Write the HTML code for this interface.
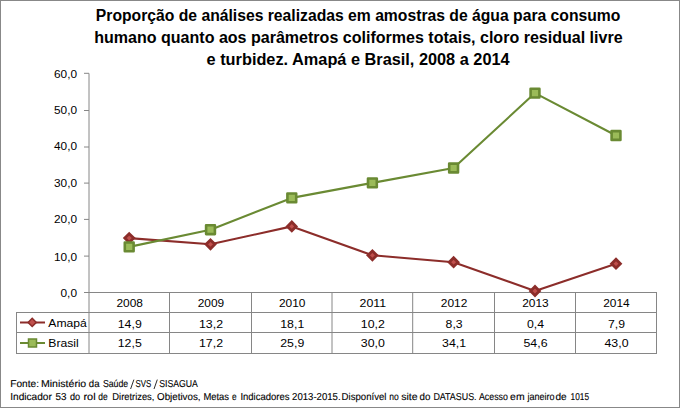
<!DOCTYPE html><html><head><meta charset="utf-8"><style>html,body{margin:0;padding:0;background:#fff;}svg{display:block;}text{font-family:"Liberation Sans",sans-serif;}</style></head><body>
<svg width="680" height="408" viewBox="0 0 680 408">
<rect x="0" y="0" width="680" height="408" fill="#fff"/>
<rect x="0.5" y="0.5" width="679" height="407" fill="none" stroke="#888888" stroke-width="1"/>
<text x="95.80" y="21" font-size="16" font-weight="bold" fill="#000" textLength="524.60" lengthAdjust="spacingAndGlyphs">Proporção de análises realizadas em amostras de água para consumo</text>
<text x="94.20" y="43" font-size="16" font-weight="bold" fill="#000" textLength="528.40" lengthAdjust="spacingAndGlyphs">humano quanto aos parâmetros coliformes totais, cloro residual livre</text>
<text x="206.60" y="65" font-size="16" font-weight="bold" fill="#000" textLength="303.00" lengthAdjust="spacingAndGlyphs">e turbidez. Amapá e Brasil, 2008 a 2014</text>
<g stroke="#868686" stroke-width="1" fill="none">
<line x1="89" y1="73.4" x2="89" y2="353"/>
<line x1="84" y1="292.5" x2="89" y2="292.5"/>
<line x1="84" y1="256.1" x2="89" y2="256.1"/>
<line x1="84" y1="219.4" x2="89" y2="219.4"/>
<line x1="84" y1="183.1" x2="89" y2="183.1"/>
<line x1="84" y1="147.0" x2="89" y2="147.0"/>
<line x1="84" y1="110.5" x2="89" y2="110.5"/>
<line x1="84" y1="73.3" x2="89" y2="73.3"/>
</g>
<g stroke="#868686" stroke-width="1" fill="none" shape-rendering="crispEdges">
<line x1="89" y1="292.5" x2="657" y2="292.5"/>
<line x1="16" y1="312.5" x2="657" y2="312.5"/>
<line x1="16" y1="332.5" x2="657" y2="332.5"/>
<line x1="16" y1="353.5" x2="657" y2="353.5"/>
<line x1="16.5" y1="312" x2="16.5" y2="354"/>
</g>
<g stroke="#868686" stroke-width="1" fill="none">
<line x1="169.5" y1="292" x2="169.5" y2="354"/>
<line x1="251.5" y1="292" x2="251.5" y2="354"/>
<line x1="332" y1="292" x2="332" y2="354"/>
<line x1="412.7" y1="292" x2="412.7" y2="354"/>
<line x1="494.5" y1="292" x2="494.5" y2="354"/>
<line x1="575.5" y1="292" x2="575.5" y2="354"/>
<line x1="656.5" y1="292" x2="656.5" y2="354"/>
</g>
<text x="60.50" y="297" font-size="11.5" fill="#000" textLength="16.5" lengthAdjust="spacingAndGlyphs">0,0</text>
<text x="54.00" y="261" font-size="11.5" fill="#000" textLength="23" lengthAdjust="spacingAndGlyphs">10,0</text>
<text x="54.00" y="223" font-size="11.5" fill="#000" textLength="23" lengthAdjust="spacingAndGlyphs">20,0</text>
<text x="54.00" y="187" font-size="11.5" fill="#000" textLength="23" lengthAdjust="spacingAndGlyphs">30,0</text>
<text x="54.00" y="150" font-size="11.5" fill="#000" textLength="23" lengthAdjust="spacingAndGlyphs">40,0</text>
<text x="54.00" y="114" font-size="11.5" fill="#000" textLength="23" lengthAdjust="spacingAndGlyphs">50,0</text>
<text x="54.00" y="78" font-size="11.5" fill="#000" textLength="23" lengthAdjust="spacingAndGlyphs">60,0</text>
<text x="116.50" y="307" font-size="11.5" fill="#000" textLength="26.5" lengthAdjust="spacingAndGlyphs">2008</text>
<text x="117.75" y="328" font-size="11.5" fill="#000" textLength="24" lengthAdjust="spacingAndGlyphs">14,9</text>
<text x="117.75" y="347" font-size="11.5" fill="#000" textLength="24" lengthAdjust="spacingAndGlyphs">12,5</text>
<text x="197.75" y="307" font-size="11.5" fill="#000" textLength="26.5" lengthAdjust="spacingAndGlyphs">2009</text>
<text x="199.00" y="328" font-size="11.5" fill="#000" textLength="24" lengthAdjust="spacingAndGlyphs">13,2</text>
<text x="199.00" y="347" font-size="11.5" fill="#000" textLength="24" lengthAdjust="spacingAndGlyphs">17,2</text>
<text x="279.00" y="307" font-size="11.5" fill="#000" textLength="26.5" lengthAdjust="spacingAndGlyphs">2010</text>
<text x="280.25" y="328" font-size="11.5" fill="#000" textLength="24" lengthAdjust="spacingAndGlyphs">18,1</text>
<text x="280.25" y="347" font-size="11.5" fill="#000" textLength="24" lengthAdjust="spacingAndGlyphs">25,9</text>
<text x="359.60" y="307" font-size="11.5" fill="#000" textLength="26.5" lengthAdjust="spacingAndGlyphs">2011</text>
<text x="360.85" y="328" font-size="11.5" fill="#000" textLength="24" lengthAdjust="spacingAndGlyphs">10,2</text>
<text x="360.85" y="347" font-size="11.5" fill="#000" textLength="24" lengthAdjust="spacingAndGlyphs">30,0</text>
<text x="440.85" y="307" font-size="11.5" fill="#000" textLength="26.5" lengthAdjust="spacingAndGlyphs">2012</text>
<text x="445.60" y="328" font-size="11.5" fill="#000" textLength="17" lengthAdjust="spacingAndGlyphs">8,3</text>
<text x="442.10" y="347" font-size="11.5" fill="#000" textLength="24" lengthAdjust="spacingAndGlyphs">34,1</text>
<text x="522.25" y="307" font-size="11.5" fill="#000" textLength="26.5" lengthAdjust="spacingAndGlyphs">2013</text>
<text x="527.00" y="328" font-size="11.5" fill="#000" textLength="17" lengthAdjust="spacingAndGlyphs">0,4</text>
<text x="523.50" y="347" font-size="11.5" fill="#000" textLength="24" lengthAdjust="spacingAndGlyphs">54,6</text>
<text x="603.25" y="307" font-size="11.5" fill="#000" textLength="26.5" lengthAdjust="spacingAndGlyphs">2014</text>
<text x="608.00" y="328" font-size="11.5" fill="#000" textLength="17" lengthAdjust="spacingAndGlyphs">7,9</text>
<text x="604.50" y="347" font-size="11.5" fill="#000" textLength="24" lengthAdjust="spacingAndGlyphs">43,0</text>
<line x1="20" y1="322.5" x2="45" y2="322.5" stroke="#8c2d2a" stroke-width="2"/>
<path d="M32.2 318.3 L36.3 322.4 L32.2 326.5 L28.1 322.4 Z" fill="#c0504d" stroke="#8c2d2a" stroke-width="1.5"/>
<text x="48.3" y="327" font-size="11.5" fill="#000" textLength="38.5" lengthAdjust="spacingAndGlyphs">Amapá</text>
<line x1="20" y1="343" x2="45" y2="343" stroke="#6a8a33" stroke-width="2"/>
<rect x="28.5" y="339" width="8" height="8" fill="#9bbb59" stroke="#6a8a33" stroke-width="1.5"/>
<text x="48.3" y="347.3" font-size="11.5" fill="#000" textLength="30.5" lengthAdjust="spacingAndGlyphs">Brasil</text>
<polyline points="129.2,238.1 210.5,244.3 291.8,226.4 372.4,255.3 453.6,262.2 535.0,291.0 616.0,263.7" fill="none" stroke="#8c2d2a" stroke-width="2.1" stroke-linejoin="round" stroke-linecap="round"/>
<path d="M129.2 233.7 L133.7 238.1 L129.2 242.5 L124.8 238.1 Z" fill="#c0504d" stroke="#8c2d2a" stroke-width="2.8"/>
<path d="M210.5 239.9 L214.9 244.3 L210.5 248.7 L206.1 244.3 Z" fill="#c0504d" stroke="#8c2d2a" stroke-width="2.8"/>
<path d="M291.8 222.0 L296.1 226.4 L291.8 230.8 L287.4 226.4 Z" fill="#c0504d" stroke="#8c2d2a" stroke-width="2.8"/>
<path d="M372.4 250.9 L376.8 255.3 L372.4 259.7 L368.0 255.3 Z" fill="#c0504d" stroke="#8c2d2a" stroke-width="2.8"/>
<path d="M453.6 257.8 L458.0 262.2 L453.6 266.6 L449.2 262.2 Z" fill="#c0504d" stroke="#8c2d2a" stroke-width="2.8"/>
<path d="M535.0 286.6 L539.4 291.0 L535.0 295.4 L530.6 291.0 Z" fill="#c0504d" stroke="#8c2d2a" stroke-width="2.8"/>
<path d="M616.0 259.3 L620.4 263.7 L616.0 268.1 L611.6 263.7 Z" fill="#c0504d" stroke="#8c2d2a" stroke-width="2.8"/>
<polyline points="129.2,246.9 210.5,229.7 291.8,197.9 372.4,182.9 453.6,168.0 535.0,93.1 616.0,135.5" fill="none" stroke="#6a8a33" stroke-width="2.1" stroke-linejoin="round" stroke-linecap="round"/>
<rect x="124.8" y="242.5" width="8.8" height="8.8" fill="#9bbb59" stroke="#6a8a33" stroke-width="2.6" stroke-linejoin="round"/>
<rect x="206.1" y="225.3" width="8.8" height="8.8" fill="#9bbb59" stroke="#6a8a33" stroke-width="2.6" stroke-linejoin="round"/>
<rect x="287.4" y="193.5" width="8.8" height="8.8" fill="#9bbb59" stroke="#6a8a33" stroke-width="2.6" stroke-linejoin="round"/>
<rect x="368.0" y="178.5" width="8.8" height="8.8" fill="#9bbb59" stroke="#6a8a33" stroke-width="2.6" stroke-linejoin="round"/>
<rect x="449.2" y="163.6" width="8.8" height="8.8" fill="#9bbb59" stroke="#6a8a33" stroke-width="2.6" stroke-linejoin="round"/>
<rect x="530.6" y="88.7" width="8.8" height="8.8" fill="#9bbb59" stroke="#6a8a33" stroke-width="2.6" stroke-linejoin="round"/>
<rect x="611.6" y="131.1" width="8.8" height="8.8" fill="#9bbb59" stroke="#6a8a33" stroke-width="2.6" stroke-linejoin="round"/>
<text x="10.20" y="387" font-size="10" text-rendering="geometricPrecision" fill="#000" stroke="#000" stroke-width="0.12" textLength="28.80" lengthAdjust="spacingAndGlyphs">Fonte:</text>
<text x="40.90" y="387" font-size="10" text-rendering="geometricPrecision" fill="#000" stroke="#000" stroke-width="0.12" textLength="45.30" lengthAdjust="spacingAndGlyphs">Ministério</text>
<text x="88.80" y="387" font-size="10" text-rendering="geometricPrecision" fill="#000" stroke="#000" stroke-width="0.12" textLength="10.70" lengthAdjust="spacingAndGlyphs">da</text>
<text x="102.90" y="387" font-size="10" text-rendering="geometricPrecision" fill="#000" stroke="#000" stroke-width="0.12" textLength="25.30" lengthAdjust="spacingAndGlyphs">Saúde</text>
<text x="135.50" y="387" font-size="10" text-rendering="geometricPrecision" fill="#000" stroke="#000" stroke-width="0.12" textLength="15.70" lengthAdjust="spacingAndGlyphs">SVS</text>
<text x="159.30" y="387" font-size="10" text-rendering="geometricPrecision" fill="#000" stroke="#000" stroke-width="0.12" textLength="38.60" lengthAdjust="spacingAndGlyphs">SISAGUA</text>
<text x="10.20" y="400" font-size="10" text-rendering="geometricPrecision" fill="#000" stroke="#000" stroke-width="0.12" textLength="41.70" lengthAdjust="spacingAndGlyphs">Indicador</text>
<text x="55.50" y="400" font-size="10" text-rendering="geometricPrecision" fill="#000" stroke="#000" stroke-width="0.12" textLength="11.00" lengthAdjust="spacingAndGlyphs">53</text>
<text x="70.00" y="400" font-size="10" text-rendering="geometricPrecision" fill="#000" stroke="#000" stroke-width="0.12" textLength="10.20" lengthAdjust="spacingAndGlyphs">do</text>
<text x="83.40" y="400" font-size="10" text-rendering="geometricPrecision" fill="#000" stroke="#000" stroke-width="0.12" textLength="12.20" lengthAdjust="spacingAndGlyphs">rol</text>
<text x="98.20" y="400" font-size="10" text-rendering="geometricPrecision" fill="#000" stroke="#000" stroke-width="0.12" textLength="9.40" lengthAdjust="spacingAndGlyphs">de</text>
<text x="112.30" y="400" font-size="10" text-rendering="geometricPrecision" fill="#000" stroke="#000" stroke-width="0.12" textLength="42.10" lengthAdjust="spacingAndGlyphs">Diretrizes,</text>
<text x="157.00" y="400" font-size="10" text-rendering="geometricPrecision" fill="#000" stroke="#000" stroke-width="0.12" textLength="43.60" lengthAdjust="spacingAndGlyphs">Objetivos,</text>
<text x="203.40" y="400" font-size="10" text-rendering="geometricPrecision" fill="#000" stroke="#000" stroke-width="0.12" textLength="25.70" lengthAdjust="spacingAndGlyphs">Metas</text>
<text x="231.90" y="400" font-size="10" text-rendering="geometricPrecision" fill="#000" stroke="#000" stroke-width="0.12" textLength="4.60" lengthAdjust="spacingAndGlyphs">e</text>
<text x="240.40" y="400" font-size="10" text-rendering="geometricPrecision" fill="#000" stroke="#000" stroke-width="0.12" textLength="49.10" lengthAdjust="spacingAndGlyphs">Indicadores</text>
<text x="292.10" y="400" font-size="10" text-rendering="geometricPrecision" fill="#000" stroke="#000" stroke-width="0.12" textLength="48.50" lengthAdjust="spacingAndGlyphs">2013-2015.</text>
<text x="341.60" y="400" font-size="10" text-rendering="geometricPrecision" fill="#000" stroke="#000" stroke-width="0.12" textLength="44.90" lengthAdjust="spacingAndGlyphs">Disponível</text>
<text x="389.30" y="400" font-size="10" text-rendering="geometricPrecision" fill="#000" stroke="#000" stroke-width="0.12" textLength="9.50" lengthAdjust="spacingAndGlyphs">no</text>
<text x="401.20" y="400" font-size="10" text-rendering="geometricPrecision" fill="#000" stroke="#000" stroke-width="0.12" textLength="16.40" lengthAdjust="spacingAndGlyphs">site</text>
<text x="419.50" y="400" font-size="10" text-rendering="geometricPrecision" fill="#000" stroke="#000" stroke-width="0.12" textLength="10.90" lengthAdjust="spacingAndGlyphs">do</text>
<text x="433.40" y="400" font-size="10" text-rendering="geometricPrecision" fill="#000" stroke="#000" stroke-width="0.12" textLength="43.20" lengthAdjust="spacingAndGlyphs">DATASUS.</text>
<text x="478.90" y="400" font-size="10" text-rendering="geometricPrecision" fill="#000" stroke="#000" stroke-width="0.12" textLength="29.00" lengthAdjust="spacingAndGlyphs">Acesso</text>
<text x="510.10" y="400" font-size="10" text-rendering="geometricPrecision" fill="#000" stroke="#000" stroke-width="0.12" textLength="14.50" lengthAdjust="spacingAndGlyphs">em</text>
<text x="527.40" y="400" font-size="10" text-rendering="geometricPrecision" fill="#000" stroke="#000" stroke-width="0.12" textLength="27.20" lengthAdjust="spacingAndGlyphs">janeiro</text>
<text x="555.40" y="400" font-size="10" text-rendering="geometricPrecision" fill="#000" stroke="#000" stroke-width="0.12" textLength="11.20" lengthAdjust="spacingAndGlyphs">de</text>
<text x="570.60" y="400" font-size="10" text-rendering="geometricPrecision" fill="#000" stroke="#000" stroke-width="0.12" textLength="18.40" lengthAdjust="spacingAndGlyphs">1015</text>
<line x1="130.6" y1="389" x2="133.9" y2="379.6" stroke="#222" stroke-width="0.95"/>
<line x1="154" y1="389" x2="157.3" y2="379.6" stroke="#222" stroke-width="0.95"/>
</svg></body></html>
